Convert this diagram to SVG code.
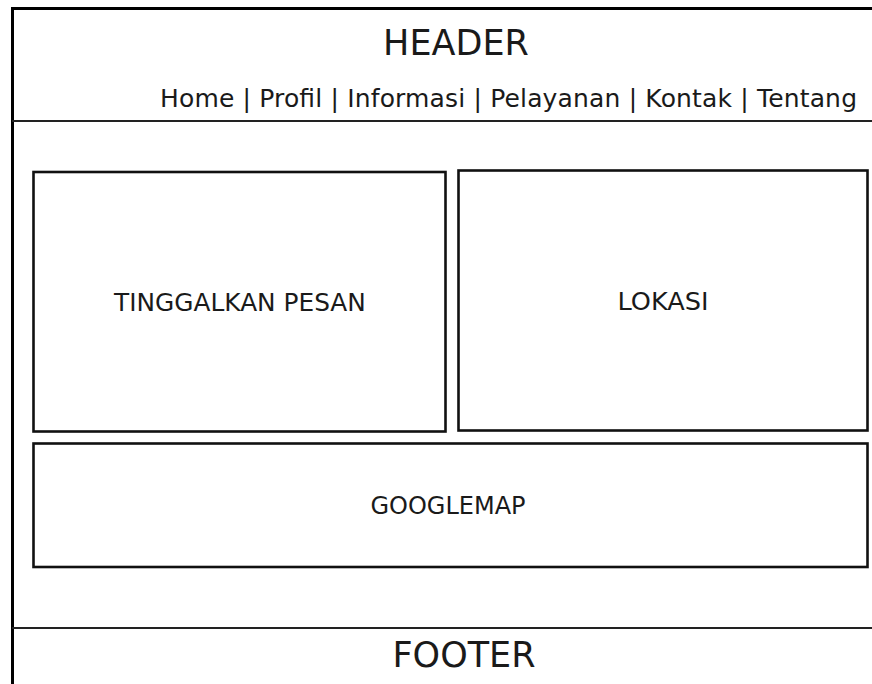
<svg xmlns="http://www.w3.org/2000/svg" width="872" height="684" viewBox="0 0 872 684">
<style>
.box{fill:#fff;stroke:#111;stroke-width:2.6}
.frame{fill:none;stroke:#000;stroke-width:3}
.sep{fill:none;stroke:#222;stroke-width:2.2}
text{font-family:"DejaVu Sans",Verdana,sans-serif;fill:#1a1a1a}
.big{font-size:35px}
.lbl{text-anchor:middle}
</style>
<rect width="872" height="684" fill="#fff"/>
<g id="frame">
<path class="frame" d="M12.5 684 V8.5 H872"/>
<path class="sep" d="M12 121 H872"/>
<path class="sep" d="M12 628 H872"/>
</g>
<g id="header">
<text class="big" x="456" y="55" text-anchor="middle">HEADER</text>
<text x="160" y="107" font-size="25" textLength="697" lengthAdjust="spacing">Home | Profil | Informasi | Pelayanan | Kontak | Tentang</text>
</g>
<g id="tinggalkan-pesan">
<rect class="box" x="33.5" y="172" width="412" height="259.5"/>
<text class="lbl" x="240" y="311" font-size="24.8">TINGGALKAN PESAN</text>
</g>
<g id="lokasi">
<rect class="box" x="458.5" y="170.5" width="409" height="260"/>
<text class="lbl" x="663" y="310" font-size="25.6">LOKASI</text>
</g>
<g id="googlemap">
<rect class="box" x="33.5" y="443.5" width="834" height="123.5"/>
<text class="lbl" x="448" y="514" font-size="24">GOOGLEMAP</text>
</g>
<g id="footer">
<text class="big" x="464" y="667" text-anchor="middle">FOOTER</text>
</g>
<g id="connectors"></g>
</svg>
